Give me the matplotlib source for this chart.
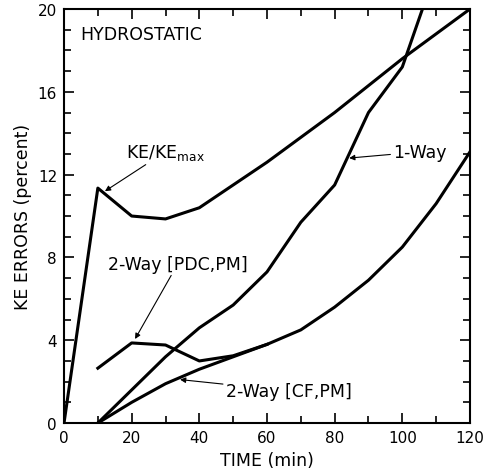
import matplotlib
matplotlib.use('Agg')
import matplotlib.pyplot as plt
from matplotlib.ticker import MultipleLocator

# curvas
t_ke = [0, 10, 20, 30, 40, 50, 60, 70, 80, 90, 100, 110, 120]
ke_max = [0, 11.35, 10.0, 9.86, 10.4, 11.5, 12.6, 13.8, 15.0, 16.3, 17.6, 18.8, 20.0]

t_one = [10, 20, 30, 40, 50, 60, 70, 80, 90, 100, 110]
one_way = [0, 1.6, 3.2, 4.6, 5.7, 7.3, 9.7, 11.5, 15.0, 17.2, 21.9]

t_pdc = [10, 20, 30, 40, 50, 60]
two_pdc = [2.65, 3.87, 3.77, 3.0, 3.25, 3.8]

t_cf = [10, 20, 30, 40, 50, 60, 70, 80, 90, 100, 110, 120]
two_cf = [0, 1.0, 1.9, 2.6, 3.2, 3.8, 4.5, 5.6, 6.9, 8.5, 10.6, 13.1]

plt.rcParams['font.family'] = ['DejaVu Sans']

fig = plt.figure(figsize=(4.85, 4.77), dpi=100)
ax = fig.add_axes([0.132, 0.111, 0.837, 0.868])

lw = 2.2
ax.plot(t_ke, ke_max, color='black', lw=lw)
ax.plot(t_one, one_way, color='black', lw=lw)
ax.plot(t_pdc, two_pdc, color='black', lw=lw)
ax.plot(t_cf, two_cf, color='black', lw=lw)

ax.set_xlim(0, 120)
ax.set_ylim(0, 20)
ax.xaxis.set_major_locator(MultipleLocator(20))
ax.xaxis.set_minor_locator(MultipleLocator(10))
ax.yaxis.set_major_locator(MultipleLocator(4))
ax.yaxis.set_minor_locator(MultipleLocator(1))
ax.tick_params(which='both', direction='in', top=True, right=True, width=1.2, labelsize=11, pad=5)
ax.tick_params(which='major', length=7)
ax.tick_params(which='minor', length=5)
for s in ax.spines.values():
    s.set_linewidth(1.5)

ax.set_xlabel('TIME (min)', fontsize=12.5, labelpad=4)
ax.set_ylabel('KE ERRORS (percent)', fontsize=12.5, labelpad=4)

fs = 12.5
ax.text(4.8, 18.8, 'HYDROSTATIC', fontsize=fs, va='center')

arr = dict(arrowstyle='-|>', color='black', lw=0.8, mutation_scale=8, shrinkA=0, shrinkB=0)
ax.annotate(r'KE/KE$_{\rm max}$', xy=(12.1, 11.2), xytext=(18.3, 13.1), fontsize=fs,
            va='center', ha='left', arrowprops=arr)
ax.annotate('2-Way [PDC,PM]', xy=(21, 4.06), xytext=(13, 7.7), fontsize=fs,
            va='center', ha='left', arrowprops=arr)
ax.annotate('2-Way [CF,PM]', xy=(34.3, 2.1), xytext=(47.8, 1.55), fontsize=fs,
            va='center', ha='left', arrowprops=arr)
ax.annotate('1-Way', xy=(84.3, 12.8), xytext=(97.3, 13.1), fontsize=fs,
            va='center', ha='left', arrowprops=arr)

fig.savefig('out.png', dpi=100)
